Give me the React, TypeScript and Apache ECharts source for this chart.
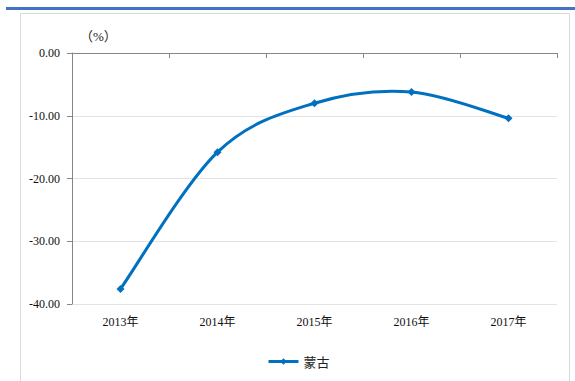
import React, { useEffect, useRef } from "react";
import * as echarts from "echarts";

const years = ["2013年", "2014年", "2015年", "2016年", "2017年"];
const mongoliaValues = [-37.6, -15.8, -8.0, -6.2, -10.4];
const seriesName = "蒙古";
const unitLabel = "（%）";

const LINE_COLOR = "#0070C0";

export default function App() {
  const ref = useRef<HTMLDivElement>(null);

  useEffect(() => {
    if (!ref.current) return;
    const chart = echarts.init(ref.current, null, { renderer: "svg" });
    const serif = "'Liberation Serif', 'Times New Roman', 'Noto Sans CJK SC', serif";

    // Catmull-Rom style smoothing: one cubic segment per pair of neighbouring points.
    const segmentIndices = mongoliaValues.slice(0, -1).map((_, i) => [i, mongoliaValues[i]]);
    const renderSegment = (params: any, api: any) => {
      const i = params.dataIndex;
      const n = mongoliaValues.length;
      const pt = (k: number) => {
        const kk = Math.max(0, Math.min(n - 1, k));
        return api.coord([kk, mongoliaValues[kk]]);
      };
      const p0 = pt(i - 1);
      const p1 = pt(i);
      const p2 = pt(i + 1);
      const p3 = pt(i + 2);
      const c1 = [p1[0] + (p2[0] - p0[0]) / 6, p1[1] + (p2[1] - p0[1]) / 6];
      const c2 = [p2[0] - (p3[0] - p1[0]) / 6, p2[1] - (p3[1] - p1[1]) / 6];
      return {
        type: "bezierCurve",
        shape: {
          x1: p1[0], y1: p1[1],
          x2: p2[0], y2: p2[1],
          cpx1: c1[0], cpy1: c1[1],
          cpx2: c2[0], cpy2: c2[1],
        },
        style: { stroke: LINE_COLOR, lineWidth: 3, fill: "none", lineCap: "round" },
        silent: true,
      };
    };

    chart.setOption({
      animation: false,
      backgroundColor: "#ffffff",
      graphic: [
        {
          type: "rect",
          shape: { x: 6, y: 7, width: 569, height: 3 },
          style: { fill: "#4472C4" },
          silent: true,
        },
        {
          type: "rect",
          shape: { x: 20.5, y: 13.5, width: 549, height: 380 },
          style: { fill: "none", stroke: "#d9d9d9", lineWidth: 1 },
          silent: true,
        },
        {
          type: "text",
          x: 80,
          y: 30,
          style: {
            text: unitLabel,
            font: "13px " + serif,
            fill: "#222",
          },
          silent: true,
        },
      ],
      grid: { left: 72, right: 18, top: 53, bottom: 77, containLabel: false },
      legend: {
        left: 262,
        top: 350,
        itemWidth: 30,
        itemHeight: 8,
        itemGap: 5,
        lineStyle: { color: LINE_COLOR, width: 3, opacity: 1 },
        itemStyle: { color: LINE_COLOR },
        textStyle: {
          fontFamily: "'Noto Sans CJK SC', sans-serif",
          fontSize: 13,
          color: "#222",
        },
        data: [seriesName],
      },
      xAxis: {
        type: "category",
        data: years,
        boundaryGap: true,
        axisLine: { lineStyle: { color: "#868686", width: 1 } },
        axisTick: { show: true, length: 5, lineStyle: { color: "#868686" } },
        axisLabel: {
          margin: 12,
          fontFamily: serif,
          fontSize: 12,
          color: "#111",
        },
        splitLine: { show: false },
      },
      yAxis: {
        type: "value",
        min: -40,
        max: 0,
        interval: 10,
        axisLine: { show: true, lineStyle: { color: "#868686", width: 1 } },
        axisTick: { show: true, length: 5, lineStyle: { color: "#868686" } },
        axisLabel: {
          margin: 12,
          fontFamily: serif,
          fontSize: 12,
          color: "#111",
          formatter: (v: number) => v.toFixed(2),
        },
        splitLine: { show: true, lineStyle: { color: "#e3e3e3", width: 1 } },
      },
      series: [
        {
          name: "curve",
          type: "custom",
          data: segmentIndices,
          renderItem: renderSegment,
          silent: true,
          z: 2,
        },
        {
          name: seriesName,
          type: "line",
          data: mongoliaValues,
          symbol: "diamond",
          symbolSize: 8,
          lineStyle: { color: LINE_COLOR, width: 3, opacity: 0 },
          itemStyle: { color: LINE_COLOR },
          z: 3,
        },
      ],
    });
    return () => chart.dispose();
  }, []);

  return (
    <div
      ref={ref}
      style={{ position: "fixed", left: 0, top: 0, width: 575, height: 381 }}
    />
  );
}
